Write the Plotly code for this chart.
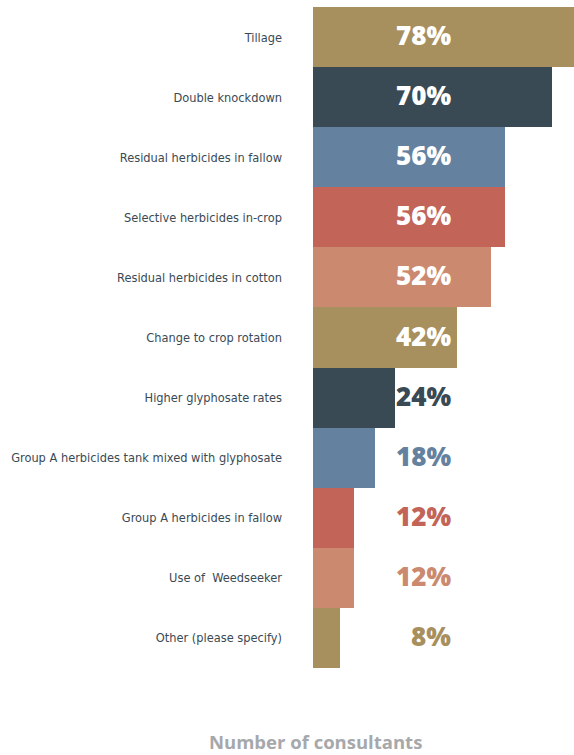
import plotly.graph_objects as go

categories = [
    "Tillage",
    "Double knockdown",
    "Residual herbicides in fallow",
    "Selective herbicides in-crop",
    "Residual herbicides in cotton",
    "Change to crop rotation",
    "Higher glyphosate rates",
    "Group A herbicides tank mixed with glyphosate",
    "Group A herbicides in fallow",
    "Use of  Weedseeker",
    "Other (please specify)",
]
values = [78, 70, 56, 56, 52, 42, 24, 18, 12, 12, 8]
colors = ["#a88f5e", "#3a4a55", "#6482a0", "#c26558", "#cb8a6f",
          "#a88f5e", "#3a4a55", "#6482a0", "#c26558", "#cb8a6f", "#a88f5e"]

W, H = 574, 755
ml, mr, mt, mb = 313, 0, 7, 87
px_per_unit = 3.42
xmax = (W - ml - mr) / px_per_unit
label_px = 453
label_x = (label_px - ml) / (W - ml - mr)  # paper fraction where value labels end

fig = go.Figure(go.Bar(
    x=values, y=categories, orientation="h",
    marker=dict(color=colors, line=dict(width=0)),
    hoverinfo="skip",
))

for cat, v, c in zip(categories, values, colors):
    inside = ml + v * px_per_unit >= label_px
    fig.add_annotation(
        x=label_x, xref="paper", y=cat, yref="y",
        text=f"{v}%", showarrow=False, xanchor="right", yanchor="middle",
        yshift=2,
        font=dict(family="Open Sans", size=26, weight=800,
                  color="white" if inside else c),
    )

plot_h = H - mt - mb
fig.add_annotation(
    x=(315 - ml) / (W - ml - mr), xref="paper",
    y=-(741 - (H - mb)) / plot_h, yref="paper",
    text="Number of consultants", showarrow=False,
    xanchor="center", yanchor="middle",
    font=dict(family="Open Sans", size=18.5, weight=700, color="#a6a8ab"),
)

fig.update_layout(
    width=W, height=H,
    margin=dict(l=ml, r=mr, t=mt, b=mb, pad=0),
    paper_bgcolor="white", plot_bgcolor="white",
    bargap=0, showlegend=False,
    xaxis=dict(range=[0, xmax], visible=False, fixedrange=True, automargin=False),
    yaxis=dict(autorange="reversed", showgrid=False, zeroline=False,
               showline=False, ticks="", ticklabelstandoff=30, automargin=False,
               fixedrange=True,
               tickfont=dict(family="DejaVu Sans Condensed, Liberation Sans Narrow, sans-serif",
                             size=12.7, color="#3a4a55")),
)

fig.write_html("out.html", config={"displayModeBar": False},
               post_script="document.body.style.margin='0';")
